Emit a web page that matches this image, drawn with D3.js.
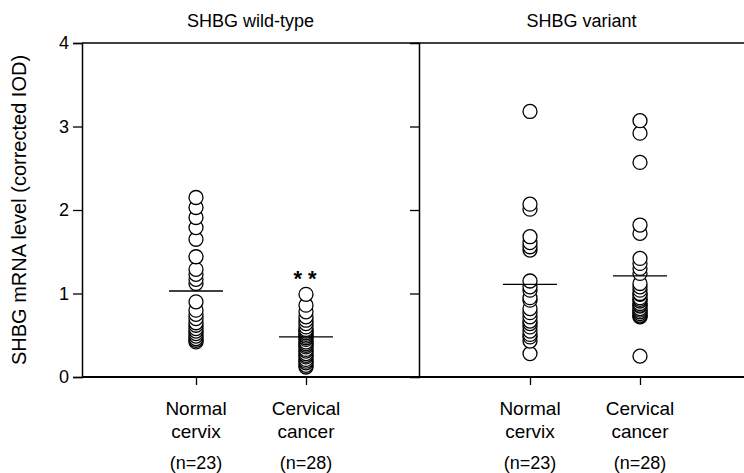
<!DOCTYPE html>
<html>
<head>
<meta charset="utf-8">
<script src="https://cdn.jsdelivr.net/npm/d3@7"></script>
<style>
  body { margin: 0; background: #fff; }
  text { font-family: "Liberation Sans", Arial, Helvetica, sans-serif; fill: #000; }
</style>
</head>
<body>
<div id="chart"></div>
<script>
// Data
const panels = ['SHBG wild-type', 'SHBG variant'];
const categories = ['Normal cervix', 'Cervical cancer'];
const sampleSizes = ['(n=23)', '(n=28)'];
const yTicks = [0, 1, 2, 3, 4];

const wildNormal = [2.15, 2.03, 1.91, 1.79, 1.65, 1.44, 1.29, 1.23, 1.17, 1.12,
  0.90, 0.80, 0.75, 0.70, 0.65, 0.62, 0.58, 0.55, 0.52, 0.49, 0.46, 0.44, 0.42];
const wildCancer = [0.99, 0.86, 0.78, 0.72, 0.68, 0.64, 0.60, 0.57, 0.55, 0.53,
  0.51, 0.49, 0.47, 0.45, 0.42, 0.40, 0.38, 0.36, 0.33, 0.31, 0.28, 0.26, 0.24,
  0.21, 0.19, 0.17, 0.14, 0.12];
const variantNormal = [3.18, 2.07, 2.01, 1.68, 1.61, 1.56, 1.52, 1.15, 1.08, 1.04,
  0.95, 0.92, 0.82, 0.77, 0.72, 0.67, 0.64, 0.60, 0.55, 0.51, 0.48, 0.43, 0.28];
const variantCancer = [3.07, 2.92, 2.57, 1.82, 1.72, 1.42, 1.36, 1.30, 1.24, 1.12,
  1.08, 1.04, 1.00, 0.99, 0.95, 0.93, 0.91, 0.88, 0.86, 0.85, 0.82, 0.80, 0.78,
  0.76, 0.74, 0.73, 0.72, 0.25];

const groupValues = [[wildNormal, wildCancer], [variantNormal, variantCancer]];
const groupMeans = [[1.03, 0.48], [1.11, 1.21]];

// Dimensions
const dimensions = {
  width: 744,
  height: 473,
  margin: { top: 43, bottom: 96, left: 82, right: 0 },
  divider: 419,
  pointRanges: [[196, 306], [530, 640]],
  radius: 7,
  meanHalf: 27
};
const bottom = dimensions.height - dimensions.margin.bottom;

const svg = d3.select('#chart')
  .append('svg')
  .attr('width', dimensions.width)
  .attr('height', dimensions.height);

// Scales
const yScale = d3.scaleLinear()
  .domain([0, 4])
  .range([bottom, dimensions.margin.top]);

const panelBounds = [
  [dimensions.margin.left, dimensions.divider],
  [dimensions.divider, dimensions.width]
];

// Frame
svg.append('g')
  .attr('transform', `translate(${dimensions.margin.left},0)`)
  .call(d3.axisLeft(yScale).tickValues(yTicks).tickFormat(d3.format('d')).tickSize(9).tickPadding(4))
  .call(g => g.select('.domain').attr('stroke-width', 1.5))
  .call(g => g.selectAll('.tick line').attr('stroke-width', 1.3))
  .call(g => g.selectAll('.tick text').style('font-size', '18px').attr('font-family', null));

svg.append('g')
  .attr('transform', `translate(${dimensions.divider},0)`)
  .call(d3.axisLeft(yScale).tickValues([1, 2, 3]).tickSize(9).tickFormat(''))
  .call(g => g.select('.domain').attr('stroke-width', 1.5))
  .call(g => g.selectAll('.tick line').attr('stroke-width', 1.3));

svg.append('line')
  .attr('x1', dimensions.margin.left).attr('x2', dimensions.width)
  .attr('y1', yScale(4)).attr('y2', yScale(4))
  .attr('stroke', '#000').attr('stroke-width', 1.5);

svg.append('line')
  .attr('x1', dimensions.margin.left).attr('x2', dimensions.width)
  .attr('y1', yScale(0)).attr('y2', yScale(0))
  .attr('stroke', '#000').attr('stroke-width', 1.8);

// Y label
svg.append('text')
  .attr('transform', `translate(26,${yScale(2)}) rotate(-90)`)
  .attr('text-anchor', 'middle')
  .style('font-size', '20px')
  .text('SHBG mRNA level (corrected IOD)');

// Panels
panels.forEach((title, p) => {
  const xScale = d3.scalePoint()
    .domain(categories)
    .range(dimensions.pointRanges[p]);

  svg.append('text')
    .attr('x', (panelBounds[p][0] + panelBounds[p][1]) / 2)
    .attr('y', 27)
    .attr('text-anchor', 'middle')
    .style('font-size', '18px')
    .text(title);

  const axis = svg.append('g')
    .attr('transform', `translate(0,${bottom})`)
    .call(d3.axisBottom(xScale).tickSize(8).tickFormat(''));
  axis.select('.domain').remove();
  axis.selectAll('.tick line').attr('stroke-width', 1.3);

  categories.forEach((cat, c) => {
    const cx = xScale(cat);
    const values = groupValues[p][c].slice().sort(d3.ascending);

    svg.append('g')
      .selectAll('circle')
      .data(values)
      .join('circle')
      .attr('cx', cx)
      .attr('cy', d => yScale(d))
      .attr('r', dimensions.radius)
      .attr('fill', '#fff')
      .attr('stroke', '#000')
      .attr('stroke-width', 1.3);

    svg.append('line')
      .attr('x1', cx - dimensions.meanHalf)
      .attr('x2', cx + dimensions.meanHalf)
      .attr('y1', yScale(groupMeans[p][c]))
      .attr('y2', yScale(groupMeans[p][c]))
      .attr('stroke', '#000')
      .attr('stroke-width', 1.3);

    const words = cat.split(' ');
    const label = svg.append('text')
      .attr('text-anchor', 'middle')
      .style('font-size', '19px');
    label.append('tspan').attr('x', cx).attr('y', 415).text(words[0]);
    label.append('tspan').attr('x', cx).attr('y', 438).text(words[1]);

    svg.append('text')
      .attr('x', cx)
      .attr('y', 469)
      .attr('text-anchor', 'middle')
      .style('font-size', '18px')
      .text(sampleSizes[c]);
  });
});

// Significance marker
svg.append('text')
  .attr('x', 305)
  .attr('y', yScale(d3.max(wildCancer)) - 8)
  .attr('text-anchor', 'middle')
  .style('font-size', '22px')
  .style('font-weight', 'bold')
  .text('* *');
</script>
</body>
</html>
